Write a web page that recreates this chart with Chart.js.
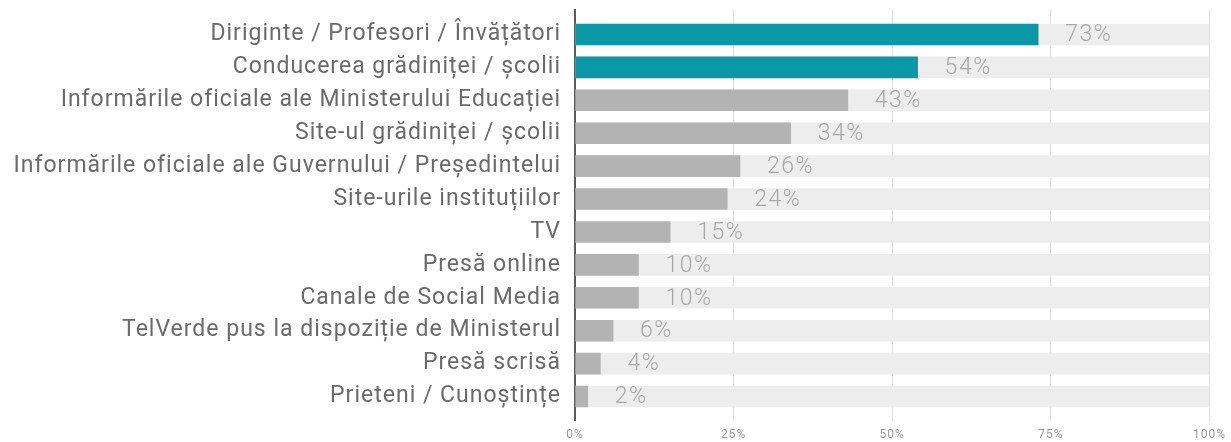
<!DOCTYPE html>
<html>
<head>
<meta charset="utf-8">
<script src="https://cdn.jsdelivr.net/npm/chart.js@4/dist/chart.umd.min.js"></script>
<style>
  html, body { margin: 0; padding: 0; background: #ffffff; }
  #wrap { width: 1231px; height: 442px; }
</style>
</head>
<body>
<div id="wrap"><canvas id="c" width="1231" height="442"></canvas></div>
<script>
// Sources of information (share of respondents, %)
const categories = [
  'Diriginte / Profesori / Învățători',
  'Conducerea grădiniței / școlii',
  'Informările oficiale ale Ministerului Educației',
  'Site-ul grădiniței / școlii',
  'Informările oficiale ale Guvernului / Președintelui',
  'Site-urile instituțiilor',
  'TV',
  'Presă online',
  'Canale de Social Media',
  'TelVerde pus la dispoziție de Ministerul',
  'Presă scrisă',
  'Prieteni / Cunoștințe'
];
const shares = [73, 54, 43, 34, 26, 24, 15, 10, 10, 6, 4, 2];
const fullScale = categories.map(() => 100);
const xTicks = [0, 25, 50, 75, 100];
const highlighted = 2; // top answers drawn in accent colour

const TEAL = '#0a97a6';
const GREY = '#b3b3b3';
const TRACK = '#ededed';
const GRID = '#dedede';

// slightly wider tracking for the axis text
const tracking = {
  id: 'tracking',
  beforeDraw(chart) { chart.ctx.letterSpacing = '1px'; },
  afterDraw(chart) { chart.ctx.letterSpacing = '0px'; }
};

const valueLabels = {
  id: 'valueLabels',
  afterDatasetsDraw(chart) {
    const meta = chart.getDatasetMeta(0);
    const ctx = chart.ctx;
    ctx.save();
    ctx.letterSpacing = '1.5px';
    ctx.font = '300 23px Roboto';
    ctx.fillStyle = '#a8a8a8';
    ctx.textAlign = 'left';
    ctx.textBaseline = 'middle';
    meta.data.forEach((bar, i) => {
      ctx.fillText(shares[i] + '%', bar.x + 27, bar.y + 1);
    });
    ctx.restore();
  }
};

new Chart(document.getElementById('c'), {
  type: 'bar',
  data: {
    labels: categories,
    datasets: [
      {
        data: shares,
        backgroundColor: shares.map((_, i) => i < highlighted ? TEAL : GREY),
        barThickness: 21,
        grouped: false,
        order: 1
      },
      {
        data: fullScale,
        backgroundColor: TRACK,
        barThickness: 21,
        grouped: false,
        order: 2
      }
    ]
  },
  options: {
    indexAxis: 'y',
    responsive: false,
    animation: false,
    devicePixelRatio: 1,
    layout: { autoPadding: false, padding: { left: 0, right: 20, top: 0, bottom: 0 } },
    plugins: { legend: { display: false }, tooltip: { enabled: false } },
    scales: {
      x: {
        position: 'bottom',
        min: 0,
        max: 100,
        afterBuildTicks: s => { s.ticks = xTicks.map(v => ({ value: v })); },
        afterFit: s => { s.height = 29; },
        border: { display: false },
        grid: {
          color: c => c.tick && c.tick.value === 0 ? '#5a5a5a' : GRID,
          lineWidth: c => c.tick && c.tick.value === 0 ? 2 : 1,
          tickLength: 8
        },
        ticks: {
          padding: 7,
          color: '#9a9a9a',
          font: { family: 'Roboto', size: 12 },
          callback: v => v + '%'
        }
      },
      xTop: {
        position: 'top',
        axis: 'x',
        min: 0,
        max: 100,
        afterBuildTicks: s => { s.ticks = xTicks.map(v => ({ value: v })); },
        afterFit: s => { s.height = 18; },
        border: { display: false },
        grid: {
          drawOnChartArea: false,
          color: c => c.tick && c.tick.value === 0 ? '#5a5a5a' : GRID,
          lineWidth: c => c.tick && c.tick.value === 0 ? 2 : 1,
          tickLength: 9
        },
        ticks: { display: false }
      },
      y: {
        afterFit: s => {
          s.width = 575;
          s.paddingTop = 0;
          s.paddingBottom = 0;
        },
        border: { display: false },
        grid: { display: false, drawTicks: false },
        ticks: {
          padding: 14,
          color: '#6a6a6a',
          font: { family: 'Roboto', size: 23 }
        }
      }
    }
  },
  plugins: [tracking, valueLabels]
});
</script>
</body>
</html>
